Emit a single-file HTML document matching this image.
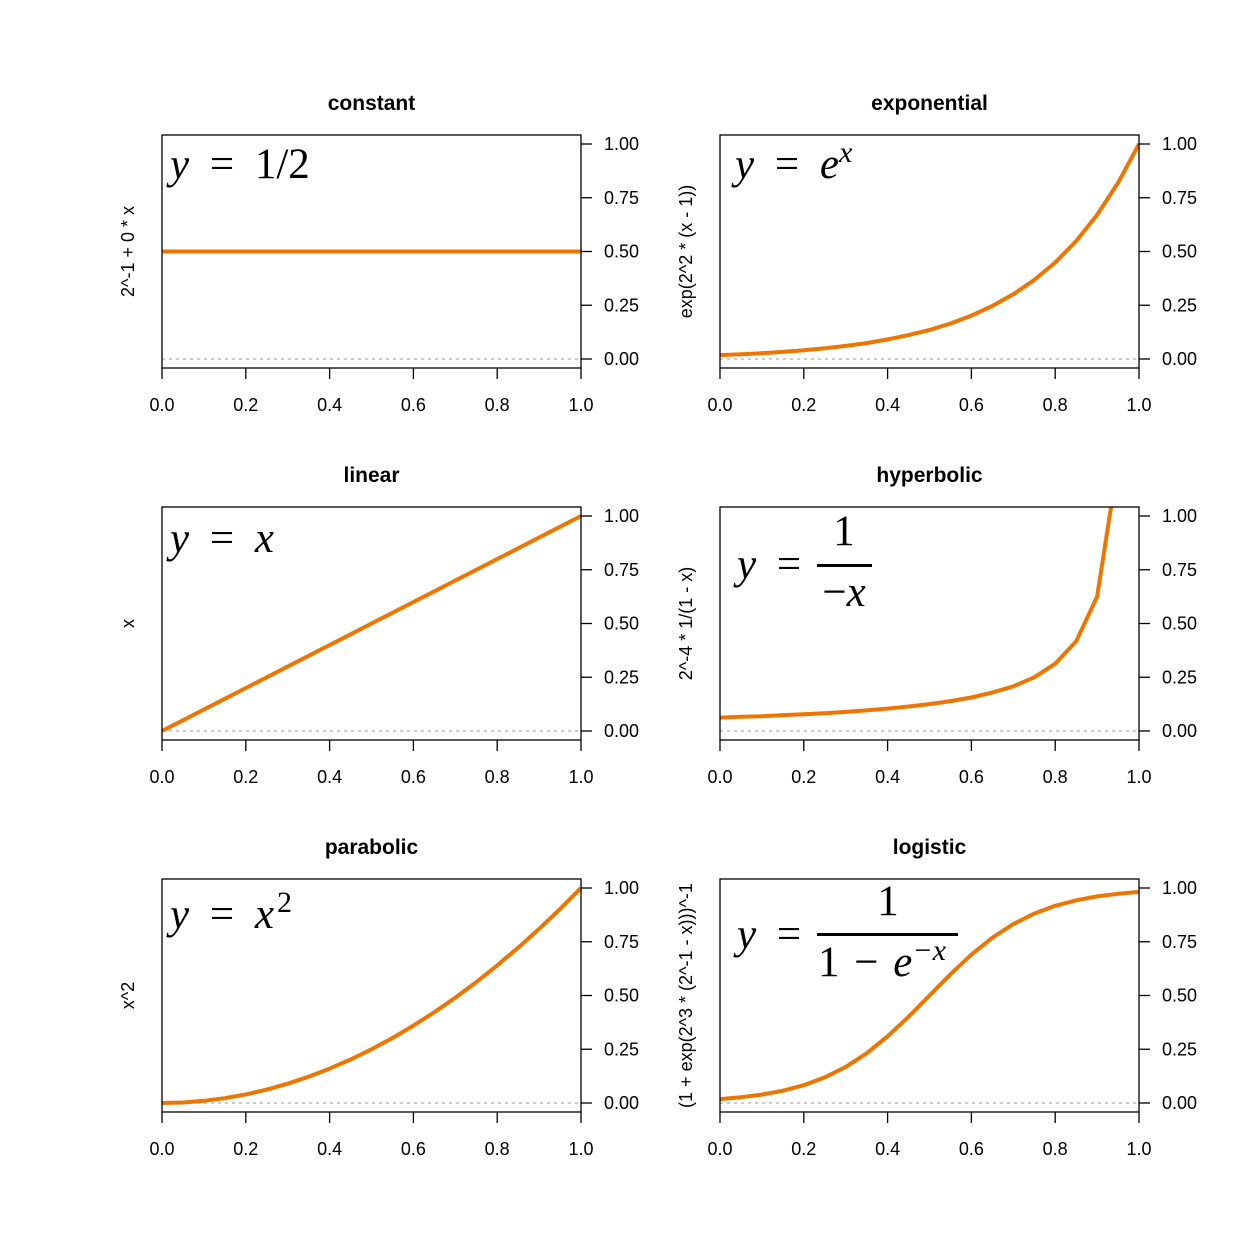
<!DOCTYPE html>
<html><head><meta charset="utf-8"><style>
body{margin:0;background:#fff}
svg{display:block}
text{font-family:"Liberation Sans",sans-serif}
.m{font-family:"Liberation Serif",serif;font-size:43px;word-spacing:10px}
</style></head><body>
<svg id="c" width="1248" height="1248" xmlns="http://www.w3.org/2000/svg"></svg>
<script>
const xs = [0,0.05,0.1,0.15,0.2,0.25,0.3,0.35,0.4,0.45,0.5,0.55,0.6,0.65,0.7,0.75,0.8,0.85,0.9,0.95,1];
const constantVals = [0.5,0.5,0.5,0.5,0.5,0.5,0.5,0.5,0.5,0.5,0.5,0.5,0.5,0.5,0.5,0.5,0.5,0.5,0.5,0.5,0.5];
const expVals = [0.018,0.022,0.027,0.033,0.041,0.050,0.061,0.074,0.091,0.111,0.135,0.165,0.202,0.247,0.301,0.368,0.449,0.549,0.670,0.819,1.000];
const linearVals = [0,0.05,0.1,0.15,0.2,0.25,0.3,0.35,0.4,0.45,0.5,0.55,0.6,0.65,0.7,0.75,0.8,0.85,0.9,0.95,1];
const hypVals = [0.0625,0.066,0.069,0.074,0.078,0.083,0.089,0.096,0.104,0.114,0.125,0.139,0.156,0.179,0.208,0.25,0.313,0.417,0.625,1.25,2.5];
const parVals = [0,0.0025,0.01,0.0225,0.04,0.0625,0.09,0.1225,0.16,0.2025,0.25,0.3025,0.36,0.4225,0.49,0.5625,0.64,0.7225,0.81,0.9025,1];
const logVals = [0.018,0.027,0.039,0.057,0.083,0.119,0.168,0.231,0.310,0.401,0.5,0.599,0.690,0.769,0.832,0.881,0.917,0.943,0.961,0.973,0.982];
const xTicks = ["0.0","0.2","0.4","0.6","0.8","1.0"];
const yTicks = ["0.00","0.25","0.50","0.75","1.00"];
const panels = [
 {title:"constant",ylab:"2^-1 + 0 * x",vals:constantVals,col:0,row:0,key:"constant"},
 {title:"exponential",ylab:"exp(2^2 * (x - 1))",vals:expVals,col:1,row:0,key:"exponential"},
 {title:"linear",ylab:"x",vals:linearVals,col:0,row:1,key:"linear"},
 {title:"hyperbolic",ylab:"2^-4 * 1/(1 - x)",vals:hypVals,col:1,row:1,key:"hyperbolic"},
 {title:"parabolic",ylab:"x^2",vals:parVals,col:0,row:2,key:"parabolic"},
 {title:"logistic",ylab:"(1 + exp(2^3 * (2^-1 - x)))^-1",vals:logVals,col:1,row:2,key:"logistic"}
];
const svg=document.getElementById('c');
const NS="http://www.w3.org/2000/svg";
function mk(tag,attrs,parent,txt){const e=document.createElementNS(NS,tag);for(const k in attrs)e.setAttribute(k,attrs[k]);if(txt!==undefined)e.textContent=txt;parent.appendChild(e);return e;}
panels.forEach((p,i)=>{
 const ox=p.col*558, oy=p.row*372;
 const L=162+ox,R=581+ox,T=135+oy,B=368+oy;
 const sx=v=>L+v*(R-L);
 const sy=v=>359+oy-v*215;
 const g=mk('g',{},svg);
 
 
 const cp=mk('clipPath',{id:'cp'+i},g);
 mk('rect',{x:L,y:T,width:R-L,height:B-T},cp);
 const t=mk('text',{x:(L+R)/2,y:110+oy,'text-anchor':'middle','font-size':21,'font-weight':'bold'},g,p.title);
 
 
 const zl=mk('line',{x1:L,x2:R,y1:sy(0),y2:sy(0),stroke:'#bbb','stroke-width':1.5,'stroke-dasharray':'3,4'},g);
 
 
 const pts=xs.map((x,j)=>sx(x).toFixed(1)+','+sy(p.vals[j]).toFixed(1)).join(' ');
 const pl=mk('polyline',{points:pts,fill:'none',stroke:'#EE7600','stroke-width':4,'stroke-linejoin':'round','clip-path':'url(#cp'+i+')'},g);
 
 
 const box=mk('rect',{x:L,y:T,width:R-L,height:B-T,fill:'none',stroke:'#000','stroke-width':1.3},g);
 
 
 xTicks.forEach(lab=>{const v=parseFloat(lab);const x=sx(v);
  mk('line',{x1:x,x2:x,y1:B,y2:B+11,stroke:'#000','stroke-width':1.3},g);
  const tl=mk('text',{x:x,y:B+43,'text-anchor':'middle','font-size':18},g,lab);
  
  });
 yTicks.forEach(lab=>{const v=parseFloat(lab);const y=sy(v);
  mk('line',{x1:R,x2:R+11,y1:y,y2:y,stroke:'#000','stroke-width':1.3},g);
  const tl=mk('text',{x:R+23,y:y+6,'font-size':18},g,lab);
  
  });
 const yt=mk('text',{x:0,y:0,'text-anchor':'middle','font-size':18,transform:`translate(${134+ox},${(T+B)/2}) rotate(-90)`},g,p.ylab);
 
 
});
</script>
<svg width="1248" height="1248" style="position:absolute;left:0;top:0">
<text class="m" x="170" y="178"><tspan font-style="italic">y</tspan> = 1/2</text>
<text class="m" x="735" y="178"><tspan font-style="italic">y</tspan> = <tspan font-style="italic">e</tspan><tspan font-style="italic" font-size="30" dy="-16">x</tspan></text>
<text class="m" x="170" y="552"><tspan font-style="italic">y</tspan> = <tspan font-style="italic">x</tspan></text>
<g>
<text class="m" x="737" y="578"><tspan font-style="italic">y</tspan> =</text>
<text class="m" x="844" y="545" text-anchor="middle">1</text>
<rect x="817" y="564" width="55" height="3" fill="#000"/>
<text class="m" x="844" y="606" text-anchor="middle" style="word-spacing:0">−<tspan font-style="italic">x</tspan></text>
</g>
<text class="m" x="170" y="928"><tspan font-style="italic">y</tspan> = <tspan font-style="italic">x</tspan><tspan font-size="30" dy="-16" dx="3">2</tspan></text>
<g>
<text class="m" x="737" y="948"><tspan font-style="italic">y</tspan> =</text>
<text class="m" x="888" y="915" text-anchor="middle">1</text>
<rect x="817" y="933" width="141" height="3" fill="#000"/>
<text class="m" x="818" y="976" style="word-spacing:4px">1 − <tspan font-style="italic">e</tspan><tspan font-style="italic" font-size="30" dy="-16">−x</tspan></text>
</g>
</svg>
</body></html>
